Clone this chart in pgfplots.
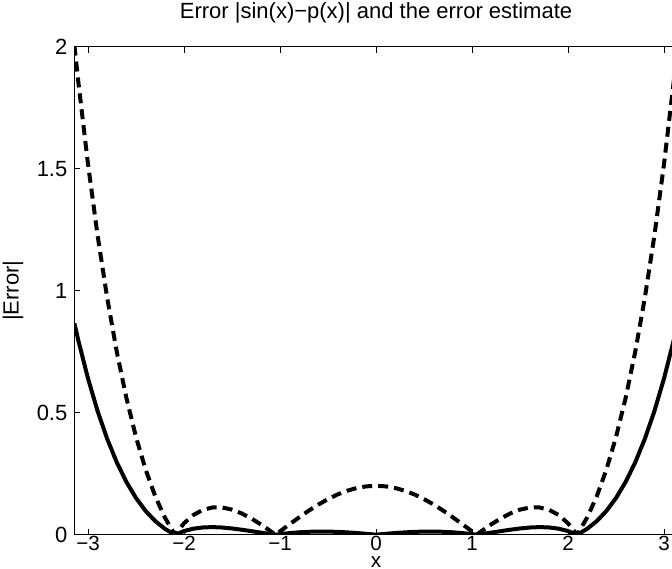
\documentclass[border=0pt]{standalone}
\usepackage{fontspec}
\setmainfont{Liberation Sans}
\usepackage{pgfplots}
\pgfplotsset{compat=1.18}
\begin{document}
\begin{tikzpicture}
\begin{axis}[
  scale only axis, width=301.6pt, height=244pt,
  xmin=-3.14159, xmax=3.14159, ymin=0, ymax=2,
  axis line style={line width=0.6pt, black},
  tick align=inside, major tick length=3pt,
  tick style={line width=0.5pt, black},
  xtick={-3,-2,-1,0,1,2,3},
  xticklabels={−3,−2,−1,0,1,2,3},
  ytick={0,0.5,1,1.5,2},
  yticklabels={0,0.5,1,1.5,2},
  ticklabel style={font=\fontsize{11}{13}\selectfont},
  xticklabel style={font=\fontsize{10.3}{12}\selectfont, yshift=0.5pt, inner sep=1pt},
  every axis title shift=0pt,
  title={Error |sin(x)−p(x)| and the error estimate},
  title style={font=\fontsize{11}{13}\selectfont, at={(0.5,1.0588)}, anchor=base},
  xlabel={x}, ylabel={|Error|},
  label style={font=\fontsize{11}{13}\selectfont},
  xlabel style={at={(0.5,-0.0665)}, anchor=base, inner sep=0.5pt, font=\fontsize{10.3}{12}\selectfont},
  ylabel style={at={(-0.102,0.5)}, anchor=center},
  clip=true,
]
\addplot[black, line width=2pt] coordinates {
(-3.14159,0.866025) (-3.1,0.794991) (-3.0,0.640218) (-2.9,0.506659) (-2.8,0.392578)
(-2.7,0.296267) (-2.6,0.216046) (-2.5,0.150282) (-2.4,0.097392) (-2.3,0.055851)
(-2.2,0.024205) (-2.1,0.001071) (-2.0944,0) (-2.0,0.014851) (-1.9,0.024775)
(-1.8,0.029827) (-1.7,0.031034) (-1.6,0.029330) (-1.5,0.025547) (-1.4,0.020419)
(-1.3,0.014579) (-1.2,0.008563) (-1.1,0.002811) (-1.0472,0) (-1.0,0.002333)
(-0.9,0.006610) (-0.8,0.009848) (-0.7,0.011951) (-0.6,0.012896) (-0.5,0.012724)
(-0.4,0.011532) (-0.3,0.009466) (-0.2,0.006710) (-0.1,0.003477) (0,0)
(0.1,0.003477) (0.2,0.006710) (0.3,0.009466) (0.4,0.011532) (0.5,0.012724)
(0.6,0.012896) (0.7,0.011951) (0.8,0.009848) (0.9,0.006610) (1.0,0.002333)
(1.0472,0) (1.1,0.002811) (1.2,0.008563) (1.3,0.014579) (1.4,0.020419)
(1.5,0.025547) (1.6,0.029330) (1.7,0.031034) (1.8,0.029827) (1.9,0.024775)
(2.0,0.014851) (2.0944,0) (2.1,0.001071) (2.2,0.024205) (2.3,0.055851)
(2.4,0.097392) (2.5,0.150282) (2.6,0.216046) (2.7,0.296267) (2.8,0.392578)
(2.9,0.506659) (3.0,0.640218) (3.1,0.794991) (3.14159,0.866025)
};
\addplot[black, line width=2pt, dash pattern=on 5pt off 3pt] coordinates {
(-3.14159,2.004302) (-3.1,1.852904) (-3.0,1.519263) (-2.9,1.226060) (-2.8,0.970346)
(-2.7,0.749272) (-2.6,0.560087) (-2.5,0.400140) (-2.4,0.266883) (-2.3,0.157865)
(-2.2,0.070736) (-2.1,0.003246) (-2.0944,0) (-2.0,0.046755) (-1.9,0.081317)
(-1.8,0.102390) (-1.7,0.111824) (-1.6,0.111369) (-1.5,0.102674) (-1.4,0.087291)
(-1.3,0.066668) (-1.2,0.042157) (-1.1,0.015006) (-1.0472,0) (-1.0,0.013634)
(-0.9,0.042713) (-0.8,0.071281) (-0.7,0.098488) (-0.6,0.123584) (-0.5,0.145919)
(-0.4,0.164943) (-0.3,0.180206) (-0.2,0.191358) (-0.1,0.198149) (0,0.200430)
(0.1,0.198149) (0.2,0.191358) (0.3,0.180206) (0.4,0.164943) (0.5,0.145919)
(0.6,0.123584) (0.7,0.098488) (0.8,0.071281) (0.9,0.042713) (1.0,0.013634)
(1.0472,0) (1.1,0.015006) (1.2,0.042157) (1.3,0.066668) (1.4,0.087291)
(1.5,0.102674) (1.6,0.111369) (1.7,0.111824) (1.8,0.102390) (1.9,0.081317)
(2.0,0.046755) (2.0944,0) (2.1,0.003246) (2.2,0.070736) (2.3,0.157865)
(2.4,0.266883) (2.5,0.400140) (2.6,0.560087) (2.7,0.749272) (2.8,0.970346)
(2.9,1.226060) (3.0,1.519263) (3.1,1.852904) (3.14159,2.004302)
};
\coordinate (BL) at (axis cs:-3.9167,-0.1406);
\coordinate (TR) at (axis cs:3.0833,2.1914);
\end{axis}
\pgfresetboundingbox
\useasboundingbox (BL) rectangle (TR);
\end{tikzpicture}
\end{document}
